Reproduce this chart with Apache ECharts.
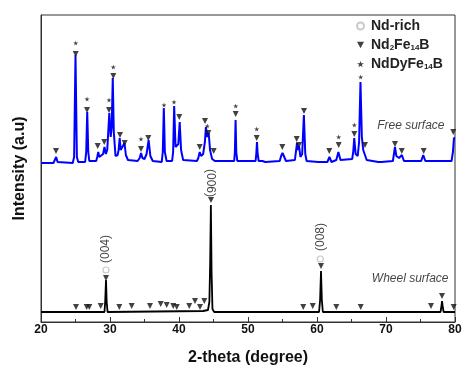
<!DOCTYPE html>
<html><head><meta charset="utf-8">
<script src="https://cdn.jsdelivr.net/npm/echarts@6/dist/echarts.min.js"></script>
<style>html,body{margin:0;padding:0;background:#fff}#c{width:473px;height:373px}</style>
</head><body><div id="c"></div>
<script>
// 2-theta range / ticks
const xMin = 20, xMax = 80, xStep = 10;
// Free surface pattern (blue), [2theta, intensity a.u.]
const freeSurface = [
 [20,159],[21.8,159],[22.0,160],[22.2,165],[22.4,160],[24.6,159],[24.8,165],[25.0,267],[25.2,165],[25.4,160],
 [26.4,160],[26.55,170],[26.7,210],[26.85,170],[27.0,161],[28.0,161],[28.15,165],[28.3,170],[28.45,165],[28.7,164],
 [29.0,168],[29.2,175],[29.4,168],[29.6,172],[29.9,209],[30.1,185],[30.25,195],[30.4,244],[30.55,190],[30.8,166],
 [31.1,167],[31.25,172],[31.4,184],[31.55,172],[31.8,170],[32.1,179],[32.3,167],[32.6,162],[34.0,161],[34.3,164],
 [34.5,169],[34.7,164],[35.0,163],[35.3,168],[35.6,182],[35.85,166],[36.2,161],[37.5,160],[37.65,170],[37.8,214],
 [37.95,170],[38.2,161],[39.0,161],[39.15,170],[39.3,216],[39.5,175],[39.9,178],[40.1,200],[40.3,172],[40.6,162],
 [42.6,161],[42.8,164],[43.0,170],[43.2,166],[43.5,168],[43.75,180],[43.9,195],[44.1,185],[44.3,189],[44.5,172],
 [44.8,163],[45.0,165],[45.2,161],[48.0,161],[48.1,170],[48.2,202],[48.3,170],[48.45,161],[51.1,161],[51.2,168],
 [51.3,180],[51.4,168],[51.55,161],[52.1,161],[52.3,163],[52.5,160],[54.6,161],[54.8,166],[55.0,169],[55.2,166],
 [55.5,161],[56.8,162],[57.1,179],[57.25,172],[57.4,176],[57.6,165],[57.85,168],[58.1,207],[58.3,168],[58.5,161],
 [60.2,160],[60.4,162],[60.6,160],[61.5,160],[61.8,165],[62.1,160],[62.8,162],[63.1,170],[63.4,162],[65.1,163],
 [65.25,170],[65.4,184],[65.6,168],[65.9,166],[66.1,180],[66.3,240],[66.5,185],[66.7,172],[66.9,174],[67.2,162],
 [68.9,160],[69.1,162],[69.3,160],[71.0,161],[71.15,168],[71.3,175],[71.5,166],[71.9,164],[72.3,167],[72.6,161],
 [75.1,161],[75.4,167],[75.7,161],[79.5,161],[79.7,170],[79.85,184],[80,184]
];
// Wheel surface pattern (black)
const wheelSurface = [
 [20,10],[29.2,10],[29.3,20],[29.42,42],[29.52,20],[29.65,10],[43.5,11],[44.2,12],[44.4,20],[44.52,60],
 [44.62,117],[44.72,50],[44.85,13],[45.1,10],[60.3,10],[60.45,22],[60.58,51],[60.7,22],[60.85,10],
 [77.9,10],[78.0,14],[78.12,21],[78.25,14],[78.35,10],[80,10]
];
// Nd2Fe14B peak markers
const freeTriangles = [
 [22.17,171],[25.03,268],[26.67,212],[28.22,176],[29.17,180],[29.86,212],[30.48,246],[31.45,187],[32.13,179],
 [34.49,173],[35.55,184],[40.04,205],[43.0,175],[43.77,201],[44.25,189],[45.03,171],[48.22,208],[51.26,184],
 [54.97,175],[57.06,183],[57.39,177],[58.12,211],[61.78,171],[63.14,177],[65.41,188],[66.96,177],[71.3,178],
 [72.28,171],[75.46,171],[79.75,190]
];
const wheelTriangles = [
 [25.07,15],[26.62,15],[27.0,15],[28.65,16],[29.42,44],[31.35,15],[33.14,16],[35.8,16],[37.35,18],[38.22,17],
 [39.17,16],[39.67,15],[41.49,16],[42.32,21],[43.04,15],[43.67,21],[44.64,122],[58.01,15],[59.38,16],[60.58,56],
 [62.8,15],[66.33,15],[76.52,16],[78.12,26],[79.81,15]
];
// NdDyFe14B markers
const stars = [
 [25.03,279],[26.67,223],[29.86,222],[30.48,255],[34.49,183],[37.83,217],[39.28,220],[44.1,196],[48.22,216],
 [51.26,193],[63.14,185],[65.41,197],[66.33,245]
];
// Nd-rich markers
const ndRich = [[29.42,52],[60.48,63]];
// Peak index labels
const peakLabels = ['(004)','(006)','(008)'];
const peakLabelPos = [[29.42,73],[44.5,139],[60.58,85]];
const peakLabelRotate = [90,-90,90];
// Pattern names
const patternNames = ['Free surface','Wheel surface'];
const patternNamePos = [[73.6,196],[73.5,43]];

const FONT = 'Liberation Sans, Arial, sans-serif';
const chart = echarts.init(document.getElementById('c'), null, {renderer:'canvas'});
const starPath = 'path://M50,0 L61,35 L98,35 L68,57 L79,91 L50,70 L21,91 L32,57 L2,35 L39,35 Z';
const downTri = 'path://M0,0 L10,0 L5,9 Z';

chart.setOption({
  animation:false,
  backgroundColor:'#fff',
  grid:{left:41,right:18,top:15,bottom:51,show:true,borderColor:'#333',borderWidth:1,outerBoundsMode:'none',containLabel:false},
  legend:{
    orient:'vertical', left:351, top:14, itemWidth:7, itemHeight:7, itemGap:5,
    data:[{name:'Nd-rich'},{name:'Nd2Fe14B',icon:downTri},{name:'NdDyFe14B'}],
    textStyle:{fontSize:14,fontWeight:'bold',color:'#222',fontFamily:FONT,padding:[0,0,0,2],
      rich:{s:{fontSize:8,fontWeight:'bold',color:'#222',fontFamily:FONT,padding:[5,0,0,0]}}},
    formatter:function(n){
      if(n==='Nd2Fe14B') return 'Nd{s|2}Fe{s|14}B';
      if(n==='NdDyFe14B') return 'NdDyFe{s|14}B';
      return n;
    }
  },
  xAxis:{
    type:'value', min:xMin, max:xMax, interval:xStep,
    name:'2-theta (degree)', nameLocation:'middle', nameGap:28,
    nameTextStyle:{fontSize:16,fontWeight:'bold',color:'#111',fontFamily:FONT},
    axisLine:{lineStyle:{color:'#333',width:1}},
    axisTick:{inside:true,length:5,lineStyle:{color:'#333'}},
    minorTick:{show:true,splitNumber:2,length:3,lineStyle:{color:'#333'}},
    axisLabel:{fontSize:12,fontWeight:'bold',color:'#111',margin:2,fontFamily:FONT},
    splitLine:{show:false}
  },
  yAxis:{
    type:'value', min:0, max:307,
    name:'Intensity (a.u)', nameLocation:'middle', nameGap:13, nameRotate:90,
    nameTextStyle:{fontSize:16,fontWeight:'bold',color:'#111',fontFamily:FONT},
    axisLine:{show:true,lineStyle:{color:'#333'}},
    axisTick:{show:false}, axisLabel:{show:false}, splitLine:{show:false}
  },
  series:[
    {type:'line',data:freeSurface,symbol:'none',lineStyle:{color:'#0000ff',width:2},z:2},
    {type:'line',data:wheelSurface,symbol:'none',lineStyle:{color:'#000',width:1.8},z:2},
    {name:'Nd2Fe14B',type:'scatter',data:freeTriangles.concat(wheelTriangles),symbol:'triangle',symbolRotate:180,
      symbolSize:[6,6],itemStyle:{color:'#111'},z:5},
    {name:'NdDyFe14B',type:'scatter',data:stars,symbol:starPath,symbolSize:5,itemStyle:{color:'#111'},z:5},
    {name:'Nd-rich',type:'scatter',data:ndRich,symbol:'circle',symbolSize:6,
      itemStyle:{color:'#fff',borderColor:'#bbb',borderWidth:1.2},z:5},
    {type:'scatter',symbolSize:0,z:6,silent:true,
      data:peakLabels.map((t,i)=>({name:t,value:peakLabelPos[i],label:{rotate:peakLabelRotate[i]}})),
      label:{show:true,position:'inside',formatter:p=>p.name,fontSize:12,color:'#111',fontFamily:FONT}},
    {type:'scatter',symbolSize:0,z:6,silent:true,
      data:patternNames.map((t,i)=>({name:t,value:patternNamePos[i]})),
      label:{show:true,position:'inside',formatter:p=>p.name,fontSize:12,fontStyle:'italic',color:'#111',fontFamily:FONT}}
  ]
});
</script></body></html>
